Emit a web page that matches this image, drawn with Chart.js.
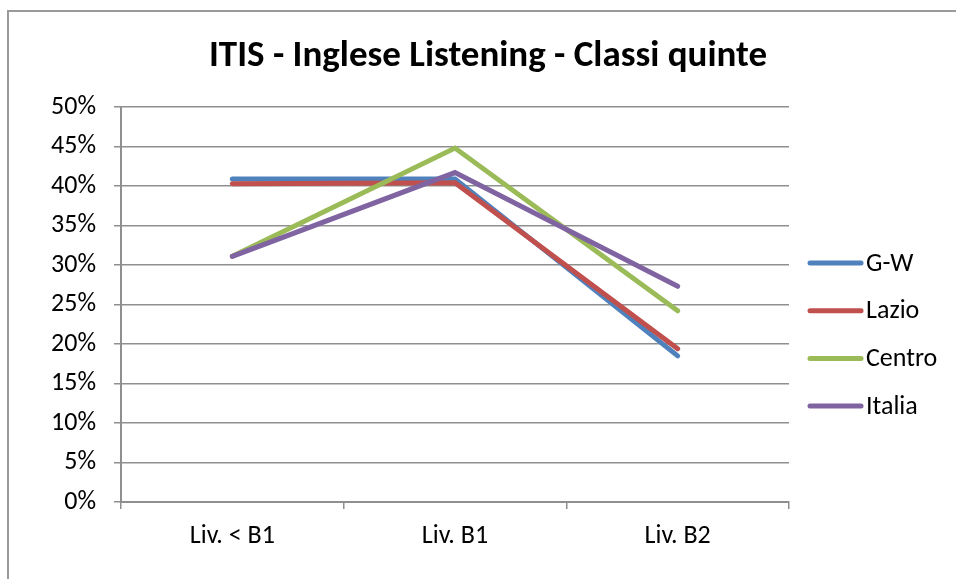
<!DOCTYPE html>
<html>
<head>
<meta charset="utf-8">
<title>ITIS - Inglese Listening - Classi quinte</title>
<script src="https://cdn.jsdelivr.net/npm/chart.js@4.4.6/dist/chart.umd.min.js"></script>
<style>
  html, body { margin: 0; padding: 0; background: #fff; }
  canvas { display: block; }
</style>
</head>
<body>
<canvas id="chart" width="956" height="579"></canvas>
<script>
// Listening results, 5th-year ITIS classes: % of students per level
const levels = ['Liv. < B1', 'Liv. B1', 'Liv. B2'];
const gw     = [40.9, 40.9, 18.5];
const lazio  = [40.3, 40.4, 19.4];
const centro = [31.1, 44.8, 24.2];
const italia = [31.1, 41.7, 27.3];
const yTicks = [0, 5, 10, 15, 20, 25, 30, 35, 40, 45, 50];

const FONT = 'Carlito, Lato, sans-serif';
const GRID = '#8f8f8f';
const LABEL_SIZE = 26;

const series = [
  { label: 'G-W',    data: gw,     color: '#4f81bd' },
  { label: 'Lazio',  data: lazio,  color: '#c0504d' },
  { label: 'Centro', data: centro, color: '#9bbb59' },
  { label: 'Italia', data: italia, color: '#8064a2' },
];

// frame, title and the right-hand legend are painted by hand
const decorations = {
  id: 'decorations',
  beforeDraw(chart) {
    const ctx = chart.ctx;
    ctx.save();
    ctx.strokeStyle = '#9a9a9a';
    ctx.lineWidth = 2;
    ctx.beginPath();
    ctx.moveTo(8, chart.height);
    ctx.lineTo(8, 11);
    ctx.lineTo(chart.width, 11);
    ctx.stroke();
    ctx.restore();
  },
  afterDraw(chart) {
    const ctx = chart.ctx;
    ctx.save();
    ctx.fillStyle = '#000';
    ctx.font = 'bold 37px ' + FONT;
    ctx.textAlign = 'center';
    ctx.textBaseline = 'alphabetic';
    ctx.fillText('ITIS - Inglese Listening - Classi quinte', 488, 66);

    ctx.font = LABEL_SIZE + 'px ' + FONT;
    ctx.textAlign = 'left';
    ctx.textBaseline = 'middle';
    ctx.lineCap = 'round';
    ctx.lineWidth = 5;
    chart.data.datasets.forEach((ds, i) => {
      const y = 263 + i * 47.7;
      ctx.strokeStyle = ds.borderColor;
      ctx.beginPath();
      ctx.moveTo(810, y);
      ctx.lineTo(861, y);
      ctx.stroke();
      ctx.fillText(ds.label, 866, y + 1);
    });
    ctx.restore();
  },
};

new Chart(document.getElementById('chart'), {
  type: 'line',
  data: {
    labels: levels,
    datasets: series.map((s, i) => ({
      label: s.label,
      data: s.data,
      borderColor: s.color,
      backgroundColor: s.color,
      borderWidth: 5,
      borderCapStyle: 'round',
      pointRadius: 0,
      tension: 0,
      order: series.length - i,
    })),
  },
  options: {
    responsive: false,
    animation: false,
    devicePixelRatio: 1,
    layout: { padding: { top: 107, right: 167, left: 0, bottom: 0 } },
    plugins: { legend: { display: false }, title: { display: false }, tooltip: { enabled: false } },
    scales: {
      x: {
        offset: true,
        afterFit: (axis) => { axis.height = 77; },
        grid: { offset: true, drawOnChartArea: false, drawTicks: true, tickLength: 7, color: GRID, lineWidth: 1.5 },
        border: { color: GRID, width: 2 },
        ticks: { color: '#000', padding: 12, font: { family: FONT, size: LABEL_SIZE } },
      },
      y: {
        min: 0,
        max: 50,
        afterFit: (axis) => { axis.width = 121; },
        afterBuildTicks: (axis) => { axis.ticks = yTicks.map((v) => ({ value: v })); },
        grid: { color: GRID, lineWidth: 1.5, tickLength: 7 },
        border: { color: GRID, width: 2 },
        ticks: { color: '#000', padding: 18, font: { family: FONT, size: LABEL_SIZE }, callback: (v) => v + '%' },
      },
    },
  },
  plugins: [decorations],
});
</script>
</body>
</html>
